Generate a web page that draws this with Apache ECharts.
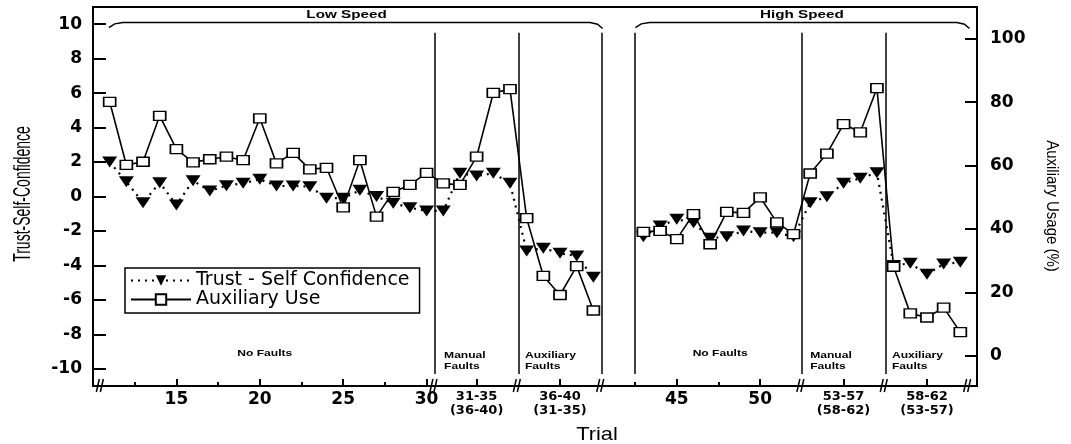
<!DOCTYPE html>
<html><head><meta charset="utf-8">
<script src="https://cdn.jsdelivr.net/npm/echarts@6/dist/echarts.min.js"></script>
<style>html,body{margin:0;padding:0;background:#fff}#c{width:1071px;height:444px}</style>
</head><body><div id="c"></div>
<script>
// ---- data ----
const trials = [11,12,13,14,15,16,17,18,19,20,21,22,23,24,25,26,27,28,29,30,31,32,33,34,35,36,37,38,39,40,
                43,44,45,46,47,48,49,50,51,52,53,54,55,56,57,58,59,60,61,62];
const trust = [2.0,0.86,-0.36,0.80,-0.49,0.92,0.32,0.63,0.77,1.0,0.61,0.61,0.57,-0.1,-0.1,0.36,0.0,-0.39,-0.65,-0.84,
               -0.84,1.35,1.19,1.35,0.77,-3.16,-3.0,-3.3,-3.45,-4.69,
               -2.33,-1.71,-1.32,-1.52,-2.43,-2.33,-2.0,-2.1,-2.1,-2.33,-0.36,-0.01,0.77,1.06,1.38,-4.0,-3.88,-4.52,-3.92,-3.82];
const auxUse = [80.1,60.2,61.2,75.7,65.2,61.0,62.0,62.8,61.7,74.9,60.7,64.0,58.8,59.3,46.8,61.7,43.9,51.7,53.9,57.7,
                54.4,53.9,62.8,82.9,84.1,43.4,25.2,19.2,28.3,14.3,
                39.1,39.4,36.8,44.7,35.2,45.4,45.1,50.0,42.1,38.4,57.5,63.8,73.1,70.5,84.4,28.1,13.4,12.1,15.2,7.5];
const xMajorTicks = [15,20,25,30,33,38,45,50,55,60];
const xTickLabels = {15:'15',20:'20',25:'25',30:'30',33:'31-35\n(36-40)',38:'36-40\n(31-35)',
                     45:'45',50:'50',55:'53-57\n(58-62)',60:'58-62\n(53-57)'};
const xMinorTicks = [12.5,17.5,22.5,27.5,42.5,47.5];
const leftTicks = [-10,-8,-6,-4,-2,0,2,4,6,8,10];
const rightTicks = [0,20,40,60,80,100];
const regionBounds = [30.5,35.5,40.5,42.5,52.5,57.5];
const axisBreaks = [10.5,30.5,35.5,40.5,52.5,57.5,62.5];
const speedGroups = [
  {name:'Low Speed', from:10.95, to:40.55, textX:25.2},
  {name:'High Speed', from:42.52, to:62.55, textX:52.5}
];
const regionLabels = [
  {text:'No Faults', x:20.3, align:'center'},
  {text:'Manual\nFaults', x:31.05, align:'left'},
  {text:'Auxiliary\nFaults', x:35.9, align:'left'},
  {text:'No Faults', x:47.6, align:'center'},
  {text:'Manual\nFaults', x:53.0, align:'left'},
  {text:'Auxiliary\nFaults', x:57.9, align:'left'}
];

function withGaps(ys){
  const out = [];
  trials.forEach((t,i)=>{
    if(i>0 && t - trials[i-1] > 1) out.push([t-1,'-']);
    out.push([t, ys[i]]);
  });
  return out;
}

const FONT = 'DejaVu Sans';
const chart = echarts.init(document.getElementById('c'));
const option = {
  animation:false,
  backgroundColor:'#fff',
  grid:{left:93, right:94, top:7, bottom:58, show:true, borderColor:'#000', borderWidth:2, backgroundColor:'transparent'},
  legend:{
    orient:'vertical', left:125, top:268, padding:[3,10,4,5], itemGap:0, itemWidth:60, itemHeight:13,
    borderColor:'#000', borderWidth:1.5, backgroundColor:'#fff',
    textStyle:{fontFamily:FONT, fontSize:19, color:'#000', lineHeight:14},
    data:['Trust - Self Confidence','Auxiliary Use']
  },
  xAxis:[{
    type:'value', min:10, max:63, position:'bottom',
    axisLine:{show:true, onZero:false, lineStyle:{color:'#000', width:2}},
    axisTick:{show:true, inside:true, length:7, customValues:xMajorTicks, lineStyle:{color:'#000', width:2}},
    axisLabel:{show:true, customValues:xMajorTicks, margin:4, color:'#000',
      formatter:(v)=>{ const s = xTickLabels[v] || ''; 
        if(s.indexOf('\n')>=0) return s.split('\n').map(p=>'{r|'+p+'}').join('\n');
        return '{m|'+s+'}'; },
      rich:{m:{fontFamily:FONT, fontSize:17, fontWeight:'bold', lineHeight:20, color:'#000'},
            r:{fontFamily:FONT, fontSize:13, fontWeight:'bold', lineHeight:14, color:'#000'}}},
    splitLine:{show:false}
  },{
    type:'value', min:10, max:63, position:'bottom',
    axisLine:{show:false, onZero:false},
    axisTick:{show:true, inside:true, length:4, customValues:xMinorTicks, lineStyle:{color:'#000', width:2}},
    axisLabel:{show:false}, splitLine:{show:false}
  }],
  yAxis:[{
    type:'value', min:-11, max:11, position:'left',
    axisLine:{show:true, onZero:false, lineStyle:{color:'#000', width:2}},
    axisTick:{show:true, inside:true, length:13, customValues:leftTicks, lineStyle:{color:'#000', width:2}},
    axisLabel:{show:true, customValues:leftTicks, margin:11, color:'#000', fontFamily:FONT, fontSize:17, fontWeight:'bold'},
    splitLine:{show:false}
  },{
    type:'value', min:-9.5, max:110, position:'right',
    axisLine:{show:true, onZero:false, lineStyle:{color:'#000', width:2}},
    axisTick:{show:true, inside:true, length:12, customValues:rightTicks, lineStyle:{color:'#000', width:2}},
    axisLabel:{show:true, customValues:rightTicks, margin:13, color:'#000', fontFamily:FONT, fontSize:17, fontWeight:'bold'},
    splitLine:{show:false}
  }],
  series:[{
    name:'Trust - Self Confidence', type:'line', xAxisIndex:0, yAxisIndex:0,
    data:withGaps(trust), connectNulls:false,
    symbol:'triangle', symbolRotate:180, symbolSize:[15,11], showAllSymbol:true,
    itemStyle:{color:'#000', borderColor:'#000', borderWidth:0},
    lineStyle:{color:'#000', width:2.2, type:[2,5]},
    emphasis:{disabled:true},
    markLine:{
      silent:true, symbol:['none','none'], label:{show:false},
      lineStyle:{color:'#000', width:1.5, type:'solid'},
      emphasis:{disabled:true},
      data:regionBounds.map(x=>[{coord:[x,9.5]},{coord:[x,-10.3]}])
    }
  },{
    name:'Auxiliary Use', type:'line', xAxisIndex:0, yAxisIndex:1,
    data:withGaps(auxUse), connectNulls:false,
    symbol:'rect', symbolSize:[12,9], showAllSymbol:true,
    itemStyle:{color:'#fff', borderColor:'#000', borderWidth:1.5},
    lineStyle:{color:'#000', width:1.6, type:'solid'},
    emphasis:{disabled:true}
  }]
};
chart.setOption(option);

const px = (x,y)=>chart.convertToPixel({xAxisIndex:0, yAxisIndex:0},[x,y]);
const g = [];
// speed brackets
speedGroups.forEach(s=>{
  const pts = [[s.from,9.8],[s.from+0.35,10.02],[s.from+0.85,10.1],[s.to-0.75,10.1],[s.to-0.3,10.0],[s.to,9.75]].map(p=>px(p[0],p[1]));
  g.push({type:'polyline', shape:{points:pts}, style:{stroke:'#000', lineWidth:1.5, fill:null}, silent:true});
  const tp = px(s.textX, 0);
  g.push({type:'text', x:tp[0], y:15, scaleX:1.45, silent:true,
    style:{text:s.name, fontFamily:'Liberation Sans, Arial', fontWeight:'bold', fontSize:10.5, fill:'#000', align:'center', verticalAlign:'middle'}});
});
// region labels
regionLabels.forEach(r=>{
  const p = px(r.x,0);
  const multi = r.text.indexOf('\n')>=0;
  g.push({type:'text', x:p[0], y: multi?350.5:348.5, scaleX:1.42, silent:true,
    style:{text:r.text, fontFamily:'Liberation Sans, Arial', fontWeight:'bold', fontSize:8.5, lineHeight:11, fill:'#000', align:r.align, verticalAlign:'top'}});
});
// axis break marks
axisBreaks.forEach(b=>{
  const p = px(b,0);
  const X = p[0];
  g.push({type:'line', shape:{x1:X-5,y1:392,x2:X-2,y2:379}, style:{stroke:'#000', lineWidth:1.5}, silent:true});
  g.push({type:'line', shape:{x1:X-1,y1:392,x2:X+2,y2:379}, style:{stroke:'#000', lineWidth:1.5}, silent:true});
});
// axis titles
g.push({type:'text', x:23, y:194, rotation:Math.PI/2, scaleY:1.7, silent:true,
  style:{text:'Trust-Self-Confidence', fontFamily:'Liberation Sans, Arial', fontSize:14, fill:'#000', align:'center', verticalAlign:'middle'}});
g.push({type:'text', x:1052, y:206, rotation:-Math.PI/2, scaleY:1.15, silent:true,
  style:{text:'Auxiliary Usage (%)', fontFamily:'Liberation Sans, Arial', fontSize:15, fill:'#000', align:'center', verticalAlign:'middle'}});
g.push({type:'text', x:597, y:435, scaleX:1.15, silent:true,
  style:{text:'Trial', fontFamily:'Liberation Sans, Arial', fontSize:19, fill:'#000', align:'center', verticalAlign:'middle'}});
chart.setOption({graphic:g});
</script></body></html>
